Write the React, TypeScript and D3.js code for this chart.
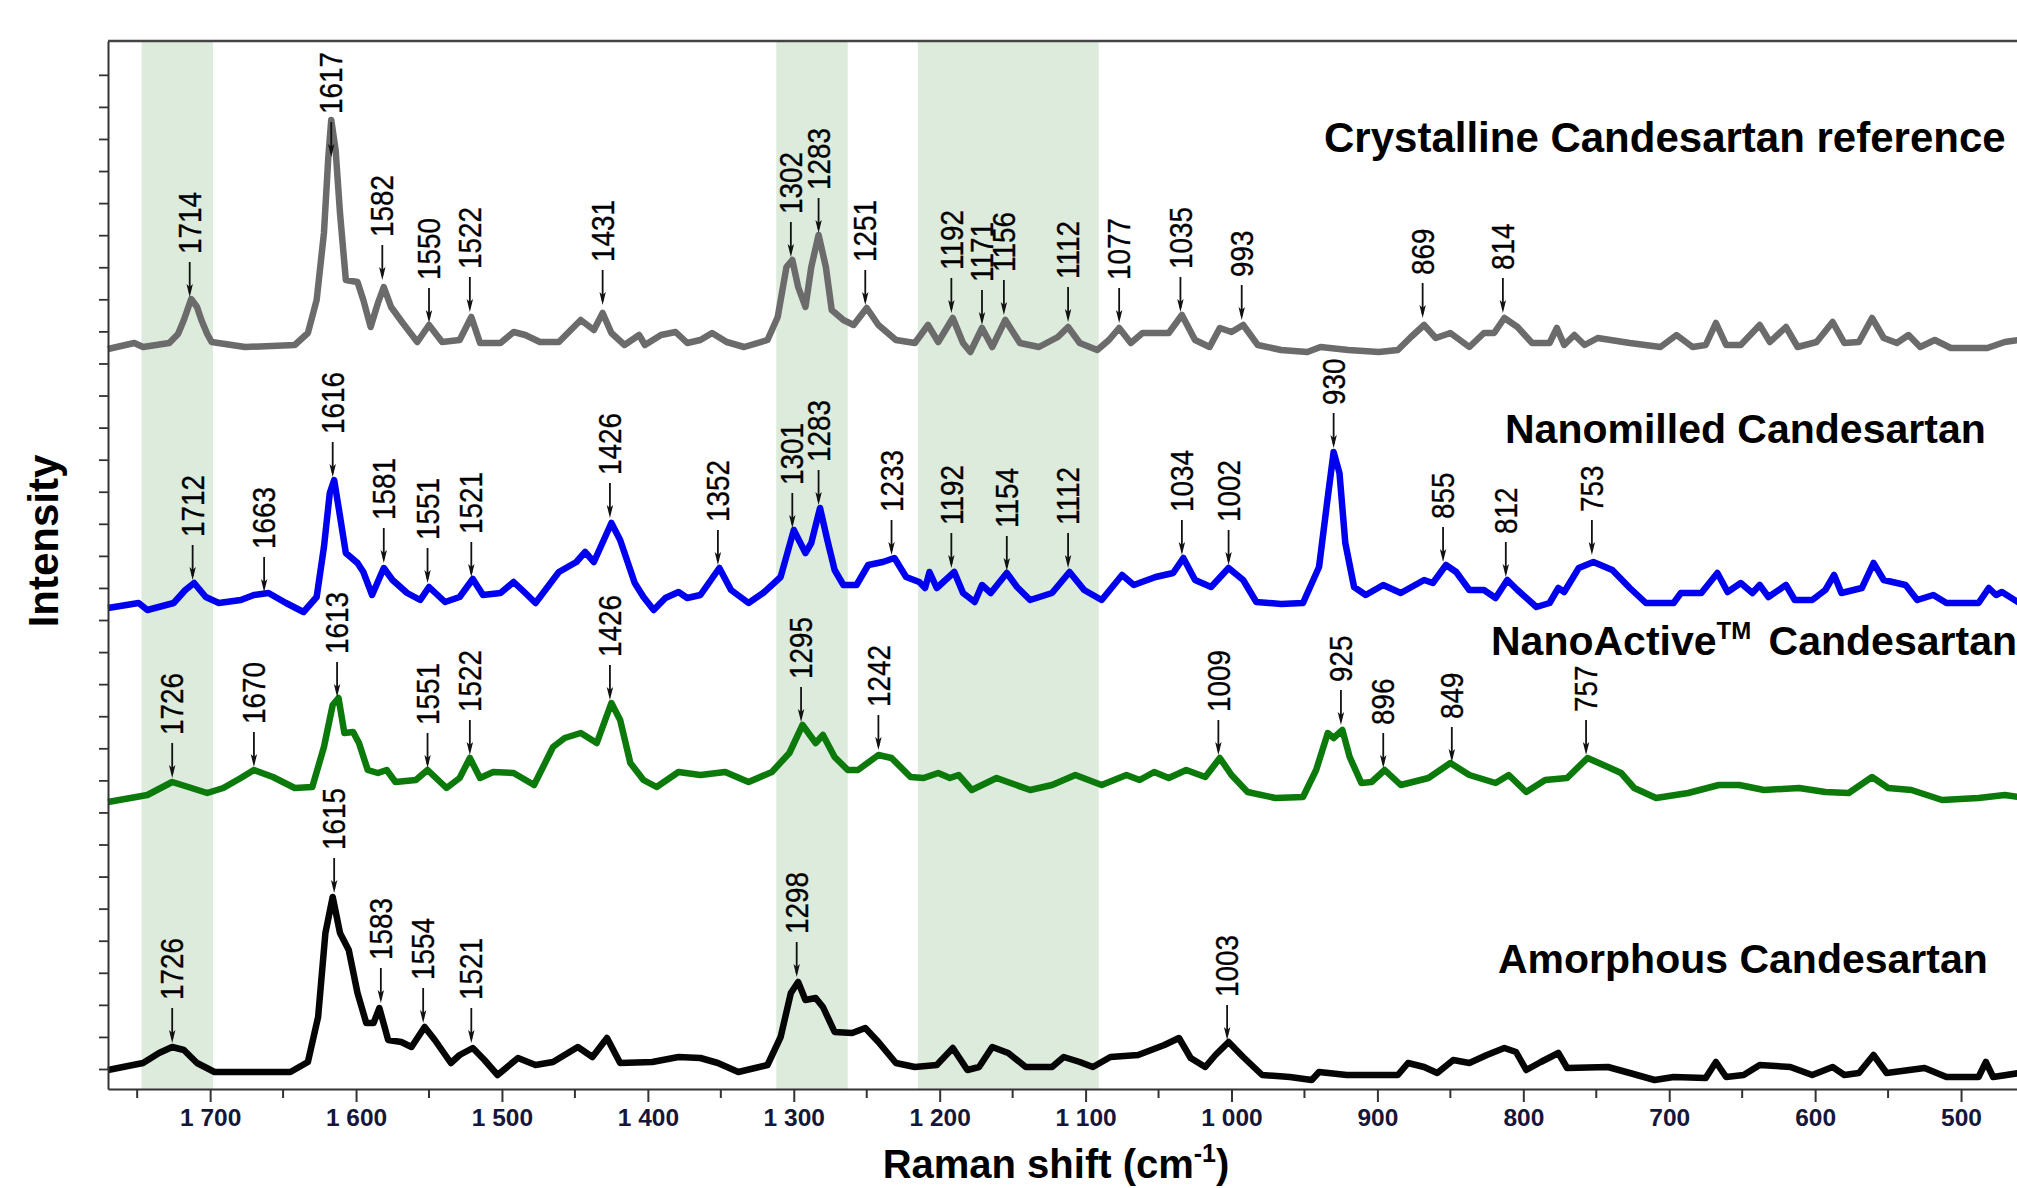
import React, { useEffect, useRef } from 'react'
import * as d3 from 'd3'

// Raman spectra of candesartan forms, stacked (wavenumber cm-1, intensity a.u. incl. offset)
const crystalline: [number, number][] = [
  [1770, 740], [1752, 746], [1746, 742], [1728, 746], [1722, 755], [1718, 769], [1713, 790], [1709, 782], [1706, 769],
  [1702, 755], [1699, 747], [1676, 742], [1642, 744], [1633, 756], [1627, 789], [1622, 856], [1619, 932], [1617, 969],
  [1614, 939], [1611, 876], [1607, 809], [1599, 807], [1595, 789], [1590, 762], [1585, 786], [1581, 802], [1576, 782],
  [1568, 766], [1558, 747], [1550, 764], [1541, 747], [1529, 749], [1521, 772], [1515, 746], [1501, 746], [1492, 757],
  [1484, 754], [1474, 747], [1461, 747], [1446, 769], [1437, 759], [1431, 776], [1425, 756], [1416, 744], [1406, 754],
  [1402, 744], [1391, 754], [1381, 757], [1373, 746], [1364, 749], [1356, 756], [1346, 747], [1334, 742], [1318, 749],
  [1311, 772], [1305, 822], [1301, 829], [1297, 802], [1292, 782], [1288, 822], [1283, 854], [1278, 822], [1274, 779],
  [1266, 769], [1259, 764], [1250, 781], [1242, 764], [1230, 749], [1217, 746], [1208, 764], [1201, 747], [1191, 771],
  [1184, 746], [1179, 737], [1171, 761], [1164, 742], [1155, 769], [1145, 746], [1132, 742], [1119, 752], [1112, 762],
  [1104, 746], [1092, 739], [1084, 749], [1077, 761], [1069, 746], [1061, 756], [1043, 756], [1034, 774], [1025, 749],
  [1015, 742], [1008, 761], [1000, 757], [992, 764], [982, 744], [966, 739], [948, 737], [939, 742], [920, 739],
  [899, 737], [886, 739], [877, 752], [868, 764], [860, 751], [850, 756], [837, 742], [827, 756], [820, 756],
  [813, 771], [804, 762], [794, 746], [782, 746], [777, 761], [772, 744], [765, 754], [758, 744], [749, 751],
  [727, 746], [706, 742], [695, 754], [684, 742], [675, 744], [668, 766], [661, 744], [651, 744], [638, 764],
  [631, 747], [620, 762], [612, 742], [599, 747], [588, 767], [580, 746], [570, 747], [561, 771], [553, 751],
  [544, 746], [536, 754], [528, 742], [518, 749], [507, 741], [482, 741], [470, 747], [460, 749],
]

const nanomilled: [number, number][] = [
  [1770, 481], [1749, 486], [1743, 479], [1725, 486], [1717, 499], [1711, 506], [1703, 492], [1694, 486], [1679, 489],
  [1670, 494], [1660, 496], [1648, 486], [1636, 477], [1627, 492], [1622, 542], [1618, 596], [1615, 609], [1612, 582],
  [1607, 536], [1599, 526], [1595, 517], [1589, 494], [1581, 521], [1575, 509], [1565, 496], [1556, 489], [1550, 502],
  [1539, 487], [1529, 492], [1520, 510], [1513, 494], [1501, 496], [1492, 507], [1484, 496], [1477, 486], [1461, 517],
  [1449, 527], [1443, 537], [1437, 527], [1425, 566], [1419, 549], [1409, 506], [1403, 492], [1396, 479], [1388, 491],
  [1379, 497], [1373, 491], [1364, 494], [1351, 521], [1343, 499], [1331, 486], [1321, 496], [1309, 512], [1300, 559],
  [1292, 536], [1288, 546], [1282, 581], [1277, 549], [1272, 519], [1266, 504], [1257, 504], [1249, 524], [1239, 527],
  [1231, 531], [1223, 512], [1214, 507], [1210, 501], [1207, 517], [1202, 501], [1190, 517], [1184, 496], [1176, 487],
  [1171, 504], [1165, 496], [1154, 516], [1147, 502], [1138, 489], [1123, 496], [1111, 517], [1101, 499], [1089, 489],
  [1075, 514], [1067, 504], [1052, 512], [1040, 516], [1033, 531], [1025, 509], [1014, 502], [1002, 521], [992, 509],
  [983, 487], [966, 485], [951, 486], [940, 522], [934, 592], [930, 637], [926, 616], [922, 546], [916, 502],
  [908, 494], [896, 504], [884, 496], [868, 509], [862, 506], [853, 524], [846, 517], [837, 499], [827, 499],
  [819, 491], [811, 509], [804, 499], [791, 482], [782, 486], [776, 501], [772, 497], [762, 521], [752, 527],
  [739, 519], [727, 501], [716, 486], [697, 486], [692, 496], [678, 496], [667, 516], [660, 497], [651, 506],
  [643, 496], [638, 504], [632, 492], [620, 504], [614, 489], [602, 489], [593, 499], [587, 514], [582, 496],
  [568, 501], [560, 526], [553, 509], [538, 504], [530, 489], [519, 494], [510, 486], [488, 486], [481, 501],
  [476, 494], [472, 497], [460, 486],
]

const nanoActive: [number, number][] = [
  [1770, 287], [1743, 294], [1726, 307], [1715, 302], [1702, 296], [1691, 301], [1679, 311], [1670, 319], [1657, 312],
  [1642, 301], [1630, 302], [1622, 342], [1616, 384], [1612, 391], [1608, 356], [1602, 357], [1598, 346], [1592, 319],
  [1585, 316], [1579, 319], [1573, 307], [1559, 309], [1551, 319], [1538, 301], [1529, 311], [1522, 331], [1515, 311],
  [1506, 317], [1492, 316], [1478, 304], [1465, 342], [1457, 351], [1446, 356], [1435, 346], [1425, 386], [1419, 369],
  [1412, 326], [1403, 309], [1394, 302], [1379, 317], [1364, 314], [1347, 317], [1331, 307], [1315, 317], [1303, 336],
  [1294, 364], [1285, 346], [1280, 354], [1272, 332], [1263, 319], [1256, 319], [1242, 334], [1233, 331], [1220, 312],
  [1211, 311], [1201, 316], [1193, 311], [1187, 314], [1178, 299], [1161, 311], [1138, 299], [1123, 304], [1107, 314],
  [1089, 304], [1072, 314], [1063, 309], [1053, 317], [1043, 311], [1031, 319], [1018, 312], [1008, 331], [1000, 314],
  [989, 297], [970, 291], [951, 292], [942, 319], [934, 356], [930, 351], [924, 359], [919, 332], [911, 306],
  [904, 307], [895, 319], [884, 304], [865, 311], [850, 326], [837, 314], [819, 306], [810, 314], [798, 297],
  [785, 309], [770, 311], [756, 331], [742, 322], [733, 316], [724, 301], [709, 291], [687, 296], [666, 304],
  [652, 304], [635, 299], [611, 301], [593, 297], [577, 296], [561, 312], [550, 301], [534, 299], [513, 289],
  [488, 291], [470, 294], [460, 292],
]

const amorphous: [number, number][] = [
  [1770, 19], [1746, 26], [1735, 36], [1726, 42], [1718, 39], [1709, 26], [1697, 17], [1676, 17], [1645, 17],
  [1633, 27], [1626, 72], [1621, 156], [1616, 192], [1611, 156], [1605, 139], [1599, 96], [1593, 66], [1588, 66],
  [1584, 81], [1578, 49], [1569, 47], [1562, 42], [1553, 62], [1546, 49], [1535, 26], [1529, 34], [1520, 41],
  [1512, 29], [1503, 14], [1489, 31], [1477, 24], [1465, 27], [1448, 42], [1438, 32], [1428, 51], [1419, 26],
  [1397, 27], [1379, 32], [1364, 31], [1352, 26], [1338, 17], [1318, 24], [1309, 52], [1302, 96], [1297, 107],
  [1292, 89], [1285, 91], [1280, 82], [1272, 57], [1260, 56], [1251, 61], [1242, 47], [1230, 26], [1217, 22],
  [1202, 24], [1191, 41], [1181, 19], [1173, 22], [1164, 42], [1153, 36], [1141, 22], [1123, 22], [1115, 32],
  [1104, 27], [1095, 22], [1083, 32], [1064, 34], [1046, 44], [1036, 51], [1028, 31], [1018, 22], [1011, 34],
  [1002, 47], [992, 32], [979, 14], [960, 12], [945, 9], [940, 17], [921, 14], [886, 14], [879, 26],
  [868, 22], [859, 16], [848, 29], [837, 26], [825, 34], [813, 41], [805, 37], [798, 19], [788, 27],
  [776, 36], [770, 21], [742, 22], [727, 16], [710, 9], [697, 12], [675, 11], [668, 27], [661, 12],
  [649, 14], [638, 24], [617, 22], [602, 14], [588, 22], [580, 14], [570, 16], [560, 34], [551, 16],
  [525, 21], [510, 12], [488, 12], [483, 27], [478, 12], [460, 16],
]

// labelled peaks: [wavenumber, intensity where the arrow points]
const crystallinePeaks: [number, number][] = [
  [1714, 792], [1617, 932], [1582, 809], [1550, 766], [1522, 777], [1431, 784], [1302, 832], [1283, 856], [1251, 784],
  [1192, 776], [1171, 764], [1156, 774], [1112, 767], [1077, 766], [1035, 777], [993, 769], [869, 771], [814, 776],
]
const nanomilledPeaks: [number, number][] = [
  [1712, 509], [1663, 497], [1616, 612], [1581, 526], [1551, 506], [1521, 512], [1426, 571], [1352, 524], [1301, 561],
  [1283, 584], [1233, 534], [1192, 521], [1154, 518], [1112, 521], [1034, 534], [1002, 524], [930, 641], [855, 527],
  [812, 512], [753, 534],
]
const nanoActivePeaks: [number, number][] = [
  [1726, 311], [1670, 322], [1613, 392], [1551, 321], [1522, 334], [1426, 389], [1295, 367], [1242, 339], [1009, 334],
  [925, 364], [896, 321], [849, 327], [757, 334],
]
const amorphousPeaks: [number, number][] = [
  [1726, 46], [1615, 196], [1583, 86], [1554, 66], [1521, 46], [1298, 112], [1003, 49],
]

// shaded wavenumber ranges [low, high]
const bands: [number, number][] = [[1698, 1747], [1263, 1312], [1091, 1215]]

const xMajorTicks = [1700, 1600, 1500, 1400, 1300, 1200, 1100, 1000, 900, 800, 700, 600, 500]
const xMinorTicks = [1750, 1650, 1550, 1450, 1350, 1250, 1150, 1050, 950, 850, 750, 650, 550, 450]

const FONT = "'Liberation Sans', Arial, Helvetica, sans-serif"

function RamanChart() {
  const svgRef = useRef<SVGSVGElement>(null)

  useEffect(() => {
    const width = 2017
    const height = 1188
    const left = 108
    const top = 41
    const bottom = 1089

    const svg = d3.select(svgRef.current)
    svg.selectAll('*').remove()

    const x = d3.scaleLinear().domain([1770, 450]).range([left, 2034])
    const y = d3.scaleLinear().domain([0, 1048]).range([bottom, top])
    const yTicks = d3.range(32).map(k => 20 + k * 32.07)

    svg.append('rect').attr('width', width).attr('height', height).attr('fill', '#fff')

    // shaded regions
    svg.append('g')
      .selectAll('rect')
      .data(bands)
      .join('rect')
      .attr('x', d => x(d[1]))
      .attr('width', d => x(d[0]) - x(d[1]))
      .attr('y', top)
      .attr('height', bottom - top)
      .attr('fill', '#dcebdc')

    // spectra
    const line = d3.line<[number, number]>()
      .x(d => x(d[0]))
      .y(d => y(d[1]))

    const series = [
      { data: crystalline, color: '#6b6b6b', peaks: crystallinePeaks },
      { data: nanomilled, color: '#0000f0', peaks: nanomilledPeaks },
      { data: nanoActive, color: '#0b7a0b', peaks: nanoActivePeaks },
      { data: amorphous, color: '#050505', peaks: amorphousPeaks },
    ]

    svg.append('g')
      .selectAll('path')
      .data(series)
      .join('path')
      .attr('d', d => line(d.data))
      .attr('fill', 'none')
      .attr('stroke', d => d.color)
      .attr('stroke-width', 6.5)
      .attr('stroke-linejoin', 'round')

    // axes
    const fmt = d3.formatLocale({ decimal: ',', thousands: ' ', grouping: [3], currency: ['', ''] }).format(',')

    const xAxis = svg.append('g')
      .attr('transform', `translate(0,${bottom})`)
      .call(d3.axisBottom(x).tickValues(xMajorTicks).tickSize(13).tickSizeOuter(0).tickFormat(d => fmt(d as number)))
    xAxis.select('.domain').attr('stroke', '#333').attr('stroke-width', 2)
    xAxis.selectAll('.tick line').attr('stroke', '#333').attr('stroke-width', 2)
    xAxis.selectAll('.tick text')
      .attr('y', 20)
      .attr('dy', '0.71em')
      .attr('font-family', FONT)
      .attr('font-weight', 'bold')
      .attr('font-size', 24.5)
      .attr('fill', '#16163a')

    svg.append('g')
      .selectAll('line')
      .data(xMinorTicks)
      .join('line')
      .attr('x1', d => x(d)).attr('x2', d => x(d))
      .attr('y1', bottom).attr('y2', bottom + 9)
      .attr('stroke', '#333').attr('stroke-width', 2)

    const yAxis = svg.append('g')
      .attr('transform', `translate(${left},0)`)
      .call(d3.axisLeft(y).tickValues(yTicks).tickSize(9).tickSizeOuter(0).tickFormat(() => ''))
    yAxis.select('.domain').attr('stroke', '#333').attr('stroke-width', 2)
    yAxis.selectAll('.tick line').attr('stroke', '#333').attr('stroke-width', 1.8)

    svg.append('line')
      .attr('x1', left).attr('x2', width)
      .attr('y1', top).attr('y2', top)
      .attr('stroke', '#444').attr('stroke-width', 2.5)

    // peak arrows + labels
    const arrowLen = 35
    const peaks = series.flatMap(s => s.peaks)
    const ann = svg.append('g')
    const pg = ann.selectAll('g').data(peaks).join('g')
      .attr('transform', d => `translate(${x(d[0])},${y(d[1])})`)
    pg.append('line')
      .attr('y1', -arrowLen).attr('y2', -4)
      .attr('stroke', '#111').attr('stroke-width', 1.8)
    pg.append('path')
      .attr('d', 'M-3.2,-13 L0,0 L3.2,-13 L0,-10 Z')
      .attr('fill', '#111')
    pg.append('text')
      .attr('transform', `translate(0,${-arrowLen - 8}) rotate(-90) scale(0.9,1)`)
      .attr('dy', '0.36em')
      .attr('font-family', FONT)
      .attr('font-size', 31)
      .attr('fill', '#000')
      .attr('stroke', '#000')
      .attr('stroke-width', 0.35)
      .text(d => String(d[0]))

    // series names
    const names = svg.append('g')
      .attr('font-family', FONT)
      .attr('font-weight', 'bold')
      .attr('fill', '#000')
      .style('white-space', 'pre')
    names.append('text').attr('x', 1324).attr('y', 152).attr('font-size', 42).text('Crystalline  Candesartan reference')
    names.append('text').attr('x', 1505).attr('y', 443).attr('font-size', 41).text('Nanomilled  Candesartan')
    const na = names.append('text').attr('x', 1491).attr('y', 655).attr('font-size', 41)
    na.append('tspan').text('NanoActive')
    na.append('tspan').attr('font-size', 24).attr('dy', -16).text('TM')
    na.append('tspan').attr('dy', 16).attr('dx', 6).text(' Candesartan')
    names.append('text').attr('x', 1498).attr('y', 973).attr('font-size', 41).text('Amorphous Candesartan')

    // axis titles
    const xt = svg.append('text')
      .attr('x', 1056).attr('y', 1178)
      .attr('text-anchor', 'middle')
      .attr('font-family', FONT).attr('font-weight', 'bold').attr('font-size', 40)
    xt.append('tspan').text('Raman shift (cm')
    xt.append('tspan').attr('font-size', 25).attr('dy', -16).text('-1')
    xt.append('tspan').attr('dy', 16).text(')')

    svg.append('text')
      .attr('transform', 'translate(58,541) rotate(-90)')
      .attr('text-anchor', 'middle')
      .attr('font-family', FONT).attr('font-weight', 'bold').attr('font-size', 42)
      .text('Intensity')
  }, [])

  return <svg ref={svgRef} width={2017} height={1188} style={{ position: 'absolute', left: 0, top: 0 }} />
}

export default function App() {
  return <RamanChart />
}
